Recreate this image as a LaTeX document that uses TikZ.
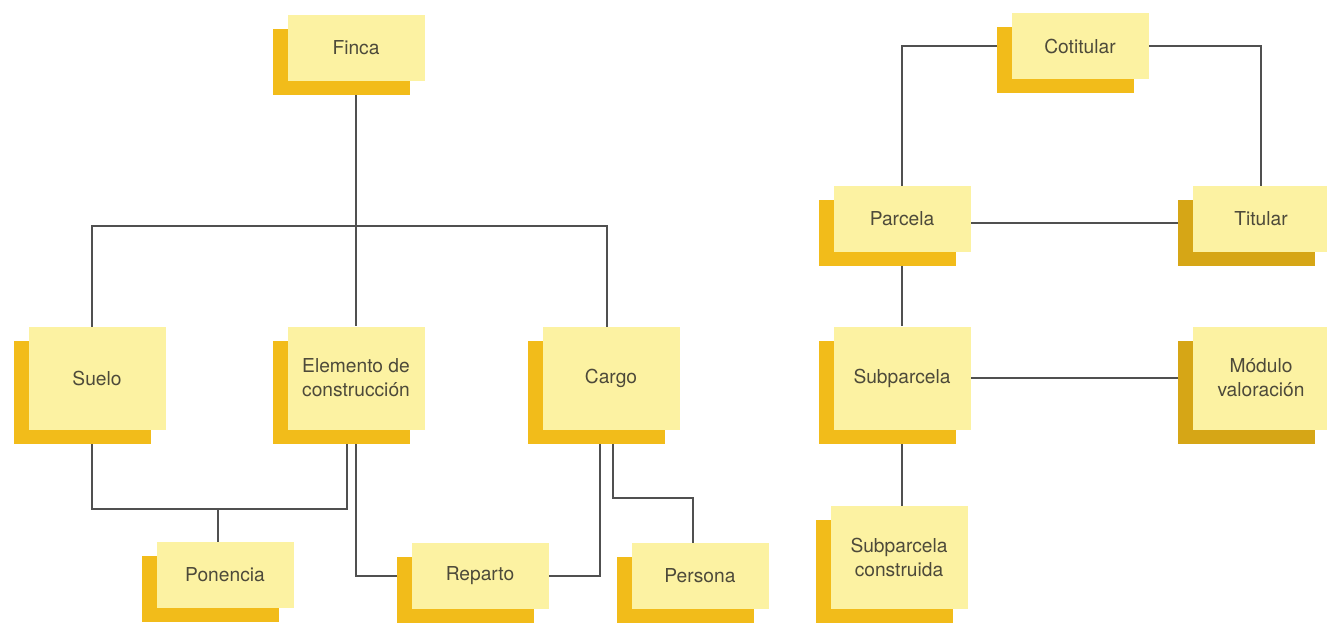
\documentclass[tikz,border=0pt]{standalone}
\usepackage{fontspec}
\setmainfont{TeX Gyre Heros}
\usetikzlibrary{shadows,backgrounds}
\definecolor{papel}{RGB}{252,242,162}
\definecolor{oro}{RGB}{242,188,26}
\definecolor{oroosc}{RGB}{214,166,22}
\definecolor{tinta}{RGB}{77,74,58}
\definecolor{linea}{RGB}{80,80,80}
\tikzset{
  entidad/.style={fill=papel, text=tinta, minimum width=68.5pt, minimum height=33pt,
    inner sep=0pt, align=center, font=\fontsize{9.6}{12}\selectfont,
    general shadow={fill=#1, shadow xshift=-7.5pt, shadow yshift=-7pt}},
  entidad/.default=oro,
  alta/.style={minimum height=51.5pt},
  enlace/.style={draw=linea, line width=0.6pt}
}

\begin{document}
\begin{tikzpicture}[x=0.5pt, y=-0.5pt]
\useasboundingbox (0,0) rectangle (1327,623);
\node[entidad] (finca) at (356,48) {Finca};
\node[entidad, alta] (suelo) at (97,378) {Suelo};
\node[entidad, alta] (elemento) at (356,378) {Elemento de\\construcción};
\node[entidad, alta] (cargo) at (611,378) {Cargo};
\node[entidad] (ponencia) at (225,575) {Ponencia};
\node[entidad] (reparto) at (480,576) {Reparto};
\node[entidad] (persona) at (700,576) {Persona};
\node[entidad] (cotitular) at (1080,46) {Cotitular};
\node[entidad] (parcela) at (902,219) {Parcela};
\node[entidad=oroosc] (titular) at (1261,219) {Titular};
\node[entidad, alta] (subparcela) at (902,378) {Subparcela};
\node[entidad=oroosc, alta] (modulo) at (1261,378) {Módulo\\valoración};
\node[entidad, alta] (subconstruida) at (899,557) {Subparcela\\construida};
\coordinate (bus) at (356,226);
\coordinate (sueloponencia) at (218,509);
\coordinate (cargopersona) at (613,498);
% lineas por detras de las cajas
\begin{pgfonlayer}{background}
\draw[enlace] (finca) -- (elemento);
\draw[enlace] ([xshift=-2.5pt]suelo.center) |- (bus) -| ([xshift=-2pt]cargo.center);
\draw[enlace] ([xshift=-2.5pt]suelo.center) |- (sueloponencia) -| ([xshift=-4.5pt]elemento.center);
\draw[enlace] (sueloponencia) -- (sueloponencia |- ponencia);
\draw[enlace] (elemento) |- (reparto);
\draw[enlace] (reparto) -| ([xshift=-5.5pt]cargo.center);
\draw[enlace] ([xshift=1pt]cargo.center) |- (cargopersona) -| ([xshift=-3.5pt]persona.center);
\draw[enlace] (parcela) |- (cotitular) -| (titular);
\draw[enlace] ([yshift=-2pt]parcela.center) -- ([yshift=-2pt]titular.center);
\draw[enlace] (parcela) -- (subparcela);
\draw[enlace] (subparcela) -- (subparcela |- subconstruida);
\draw[enlace] (subparcela) -- (modulo);
\end{pgfonlayer}
\end{tikzpicture}
\end{document}
